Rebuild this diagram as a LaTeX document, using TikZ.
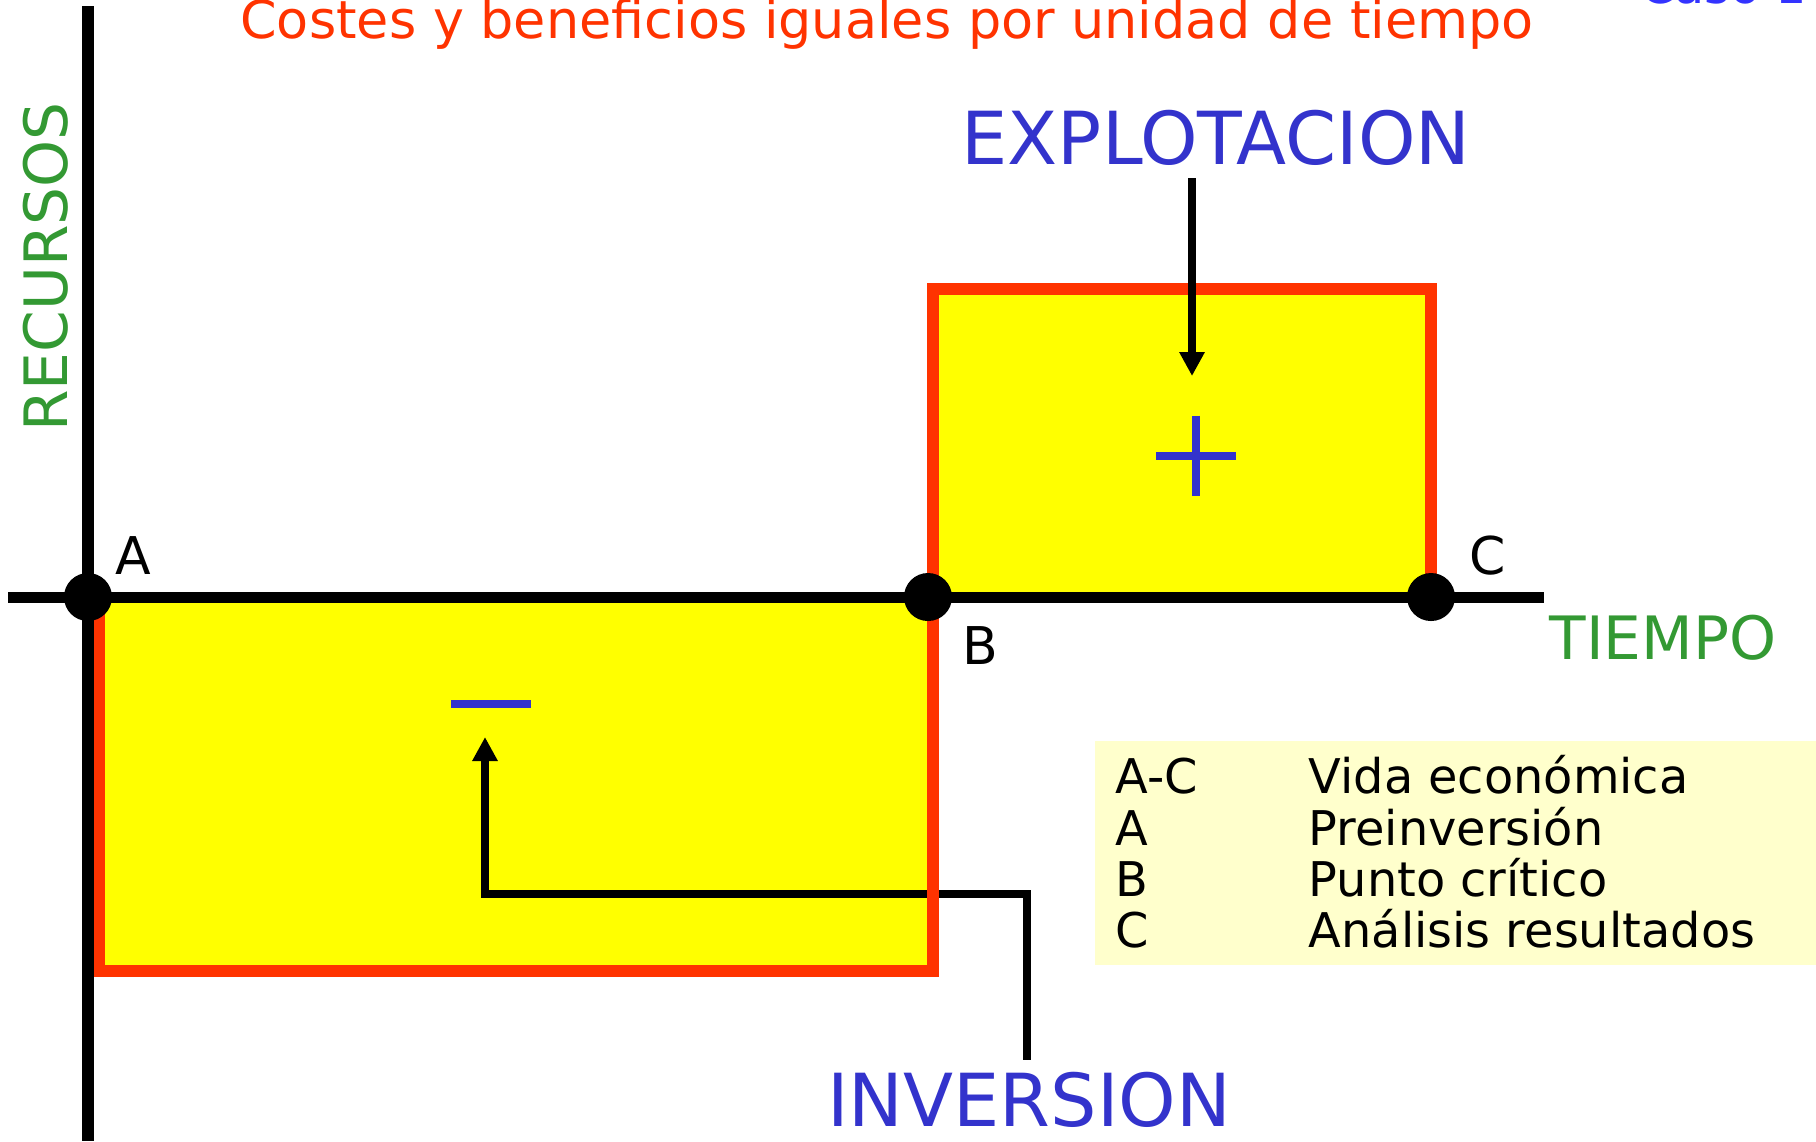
\documentclass[tikz,border=0pt]{standalone}
\usepackage{fontspec}
\setmainfont{DejaVu Sans}
\usetikzlibrary{arrows.meta}

\definecolor{titlered}{HTML}{FF3300}
\definecolor{areayellow}{HTML}{FFFF00}
\definecolor{legendyellow}{HTML}{FFFFCC}
\definecolor{phaseblue}{HTML}{3333CC}
\definecolor{casoblue}{HTML}{3333FF}
\definecolor{axisgreen}{HTML}{339933}

\begin{document}
\begin{tikzpicture}[x=0.01cm,y=-0.01cm,
                    axis/.style={line width=0.11cm},
                    border/.style={draw=titlered,line width=0.12cm},
                    point/.style={circle,fill=black,inner sep=0pt,minimum size=0.48cm},
                    pointlabel/.style={font=\fontsize{14.8}{17}\selectfont},
                    phase/.style={text=phaseblue,font=\fontsize{20.8}{24}\selectfont},
                    axislabel/.style={text=axisgreen,font=\fontsize{17}{20}\selectfont},
                    legend/.style={anchor=base west,inner sep=0pt,font=\fontsize{13.6}{16}\selectfont},
                    pointer/.style={line width=0.085cm,-{Triangle[width=0.24cm,length=0.24cm]}},
                    sign/.style={draw=phaseblue,line width=0.08cm}]

  \useasboundingbox (0,0) rectangle (1816,1141);

  % legend background
  \fill[legendyellow] (1095,741) rectangle (1816,965);

  % areas
  \fill[areayellow] (99,597) rectangle (933,971);
  \fill[areayellow] (933,289) rectangle (1431,597);

  % signs
  \coordinate (plus) at (1196,456);
  \coordinate (minus) at (491,704);
  \draw[sign] ([xshift=-0.40cm]plus) -- ([xshift=0.40cm]plus);
  \draw[sign] ([yshift=0.40cm]plus) -- ([yshift=-0.40cm]plus);
  \draw[sign] ([xshift=-0.40cm]minus) -- ([xshift=0.40cm]minus);

  % phase labels
  \node[phase] (explotacion) at (1216,138) {EXPLOTACION};
  \node[phase] (inversion) at (1029,1100) {INVERSION};
  \coordinate (plustop) at (1192,376);
  \coordinate (bend) at (1027,894);
  \coordinate (minustip) at (485,737);

  % inversion pointer under the border
  \draw[pointer] (inversion.north -| bend) -- (bend) -| (minustip);

  % borders
  \draw[border] (99,597) -- (99,971) -- (933,971) -- (933,289) -- (1431,289) -- (1431,597);

  % explotacion pointer over the border
  \draw[pointer] (explotacion.south -| plustop) -- (plustop);

  % axes
  \coordinate (ytop) at (88,6);
  \coordinate (ybottom) at (88,1141);
  \coordinate (xleft) at (8,597);
  \coordinate (xright) at (1544,597);
  \draw[axis] (ytop) -- (ybottom);
  \draw[axis] (xleft) -- (xright);

  % points
  \node[point] (A) at (88,597) {};
  \node[point] (B) at (928,597) {};
  \node[point] (C) at (1431,597) {};
  \node[pointlabel] at (133,556) {A};
  \node[pointlabel] at (980,646) {B};
  \node[pointlabel] at (1488,556) {C};

  % axis labels
  \node[axislabel,rotate=90] (recursos) at (46,267) {RECURSOS};
  \node[axislabel] (tiempo) at (1663,638) {TIEMPO};

  % titles
  \node[text=titlered,font=\fontsize{14.9}{17}\selectfont,anchor=base] (title) at (887,38)
    {Costes y beneficios iguales por unidad de tiempo};
  \node[text=casoblue,font=\fontsize{14}{16}\selectfont,anchor=base east,inner sep=0pt] (caso) at (1808,3) {Caso 1};

  % legend
  \node[legend] (l1a) at (1115,793) {A-C};
  \node[legend] (l1b) at (1308,793) {Vida económica};
  \node[legend] (l2a) at (1115,845) {A};
  \node[legend] (l2b) at (1308,845) {Preinversión};
  \node[legend] (l3a) at (1115,896) {B};
  \node[legend] (l3b) at (1308,896) {Punto crítico};
  \node[legend] (l4a) at (1115,947) {C};
  \node[legend] (l4b) at (1308,947) {Análisis resultados};
\end{tikzpicture}
\end{document}
